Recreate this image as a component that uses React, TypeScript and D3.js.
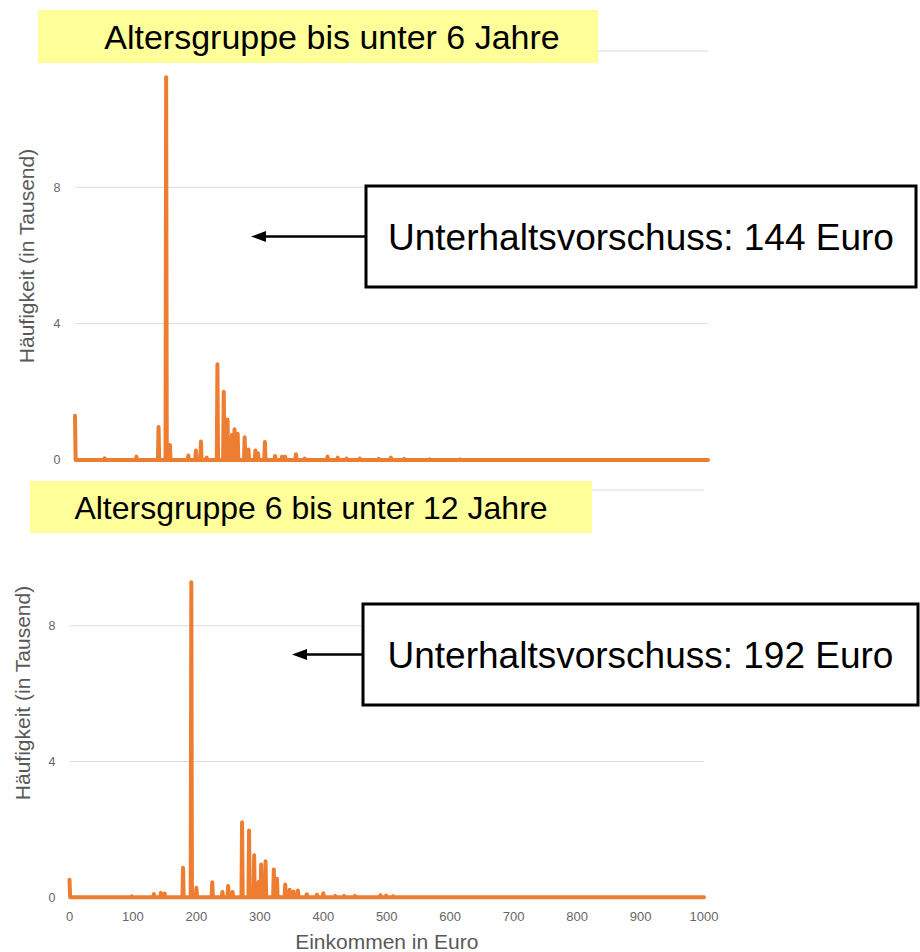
import * as d3 from 'd3';
import * as React from 'react';

// Häufigkeit (in Tausend) je Einkommen in Euro, nur Werte > 0
const incomeUnder6 = [
  0, 47, 97, 132, 144, 150, 179, 191, 199, 208, 225, 235, 241, 248, 252, 257, 268, 274, 285, 289,
  300, 316, 327, 332, 349, 363, 399, 415, 429, 450, 480, 499, 520, 560, 608,
];
const freqUnder6 = [
  1.3, 0.05, 0.1, 0.97, 11.23, 0.44, 0.13, 0.28, 0.54, 0.07, 2.81, 2.0, 1.19, 0.73, 0.9, 0.77, 0.67,
  0.31, 0.28, 0.2, 0.53, 0.12, 0.1, 0.1, 0.17, 0.04, 0.1, 0.07, 0.04, 0.04, 0.03, 0.07, 0.03, 0.02,
  0.02,
];

const income6to12 = [
  0, 98, 133, 144, 150, 179, 192, 200, 225, 241, 250, 257, 272, 283, 291, 298, 302, 309, 322, 327,
  340, 347, 353, 360, 374, 390, 400, 419, 433, 450, 490, 499, 510,
];
const freq6to12 = [
  0.52, 0.03, 0.1, 0.13, 0.11, 0.87, 9.28, 0.28, 0.44, 0.16, 0.33, 0.16, 2.21, 1.97, 1.24, 0.45,
  0.97, 1.06, 0.82, 0.55, 0.38, 0.22, 0.17, 0.2, 0.09, 0.08, 0.12, 0.04, 0.04, 0.04, 0.06, 0.05,
  0.03,
];

const yTicks = [0, 4, 8, 12];
const xTicks = [0, 100, 200, 300, 400, 500, 600, 700, 800, 900, 1000];
const incomeMax = 1000;

const FONT = '"Liberation Sans", Arial, sans-serif';
const ORANGE = '#ED7D31';

type PanelProps = {
  title: string;
  note: string;
  incomes: number[];
  freqs: number[];
  x0: number;
  x1: number;
  yBase: number;
  yTop: number;
  titleBox: [number, number, number, number];
  titleX: number;
  titleSize: number;
  noteBox: [number, number, number, number];
  arrowTip: number;
  yLabelX: number;
  yTitleX: number;
  yTitleY: number;
  showXAxis?: boolean;
};

const Panel = (p: PanelProps) => {
  const x = d3.scaleLinear().domain([0, incomeMax]).range([p.x0, p.x1]);
  const y = d3.scaleLinear().domain([0, 12]).range([p.yBase, p.yTop]);

  const points = React.useMemo(() => {
    const lookup = new Map(p.incomes.map((v, i) => [v, p.freqs[i]]));
    return d3.range(0, incomeMax + 1).map((v) => [v, lookup.get(v) ?? 0] as [number, number]);
  }, [p.incomes, p.freqs]);

  const path = d3
    .line<[number, number]>()
    .x((d) => x(d[0]))
    .y((d) => y(d[1]))(points);

  const [bx, by, bw, bh] = p.titleBox;
  const [nx, ny, nw, nh] = p.noteBox;
  const arrowY = ny + nh / 2;

  return (
    <g>
      {yTicks.map((t) => (
        <g key={t}>
          <line x1={p.x0} x2={p.x1} y1={y(t)} y2={y(t)} stroke="#dcdcdc" strokeWidth={1} />
          <text x={p.yLabelX} y={y(t)} dy="0.35em" textAnchor="middle" fontSize={12.5} fill="#666">
            {t}
          </text>
        </g>
      ))}
      <text
        transform={`translate(${p.yTitleX},${p.yTitleY}) rotate(-90)`}
        textAnchor="middle"
        dy="0.35em"
        fontSize={21}
        fill="#595959"
      >
        Häufigkeit (in Tausend)
      </text>
      {p.showXAxis &&
        xTicks.map((t) => (
          <text key={t} x={x(t)} y={p.yBase + 24} textAnchor="middle" fontSize={13} fill="#666">
            {t}
          </text>
        ))}
      {p.showXAxis && (
        <text x={(p.x0 + p.x1) / 2} y={p.yBase + 52} textAnchor="middle" fontSize={21} fill="#595959">
          Einkommen in Euro
        </text>
      )}
      <path
        d={path ?? ''}
        fill="none"
        stroke={ORANGE}
        strokeWidth={4}
        strokeLinejoin="round"
        strokeLinecap="round"
      />
      <rect x={bx} y={by} width={bw} height={bh} fill="#FFFF99" />
      <text x={p.titleX} y={by + bh / 2} dy="0.36em" textAnchor="middle" fontSize={p.titleSize} fill="#000">
        {p.title}
      </text>
      <line x1={nx} x2={p.arrowTip + 12} y1={arrowY} y2={arrowY} stroke="#000" strokeWidth={2.5} />
      <path
        d={`M${p.arrowTip},${arrowY} L${p.arrowTip + 15},${arrowY - 5.5} L${p.arrowTip + 15},${arrowY + 5.5} Z`}
        fill="#000"
      />
      <rect x={nx} y={ny} width={nw} height={nh} fill="#fff" stroke="#000" strokeWidth={3} />
      <text x={nx + nw / 2} y={arrowY} dy="0.36em" textAnchor="middle" fontSize={37} fill="#000">
        {p.note}
      </text>
    </g>
  );
};

export default function App() {
  return (
    <svg
      width={920}
      height={952}
      style={{ position: 'absolute', left: 0, top: 0, fontFamily: FONT, background: '#fff' }}
    >
      <Panel
        title="Altersgruppe bis unter 6 Jahre"
        note="Unterhaltsvorschuss: 144 Euro"
        incomes={incomeUnder6}
        freqs={freqUnder6}
        x0={75}
        x1={708}
        yBase={460}
        yTop={51}
        titleBox={[38, 10, 560, 53]}
        titleX={332}
        titleSize={34}
        noteBox={[366, 186, 550, 101]}
        arrowTip={251}
        yLabelX={57}
        yTitleX={27}
        yTitleY={256}
      />
      <Panel
        title="Altersgruppe 6 bis unter 12 Jahre"
        note="Unterhaltsvorschuss: 192 Euro"
        incomes={income6to12}
        freqs={freq6to12}
        x0={69.5}
        x1={704}
        yBase={897.3}
        yTop={490}
        titleBox={[30, 481, 562, 52]}
        titleX={311}
        titleSize={32}
        noteBox={[363, 604, 555, 101]}
        arrowTip={292}
        yLabelX={52}
        yTitleX={23}
        yTitleY={693}
        showXAxis
      />
    </svg>
  );
}
